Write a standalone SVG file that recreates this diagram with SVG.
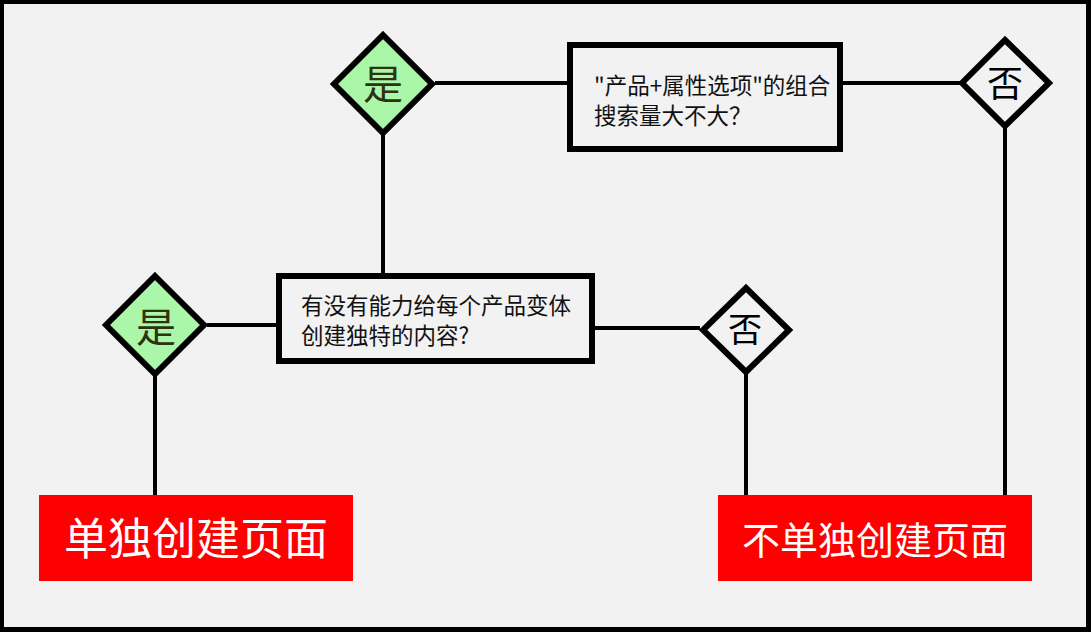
<svg xmlns="http://www.w3.org/2000/svg" width="1091" height="632" viewBox="0 0 1091 632">
<style>
.ln{stroke:#000;stroke-width:4;fill:none}
.box{fill:#f2f2f2;stroke:#000;stroke-width:6}
.yes{fill:#aaf7aa;stroke:#000;stroke-width:6}
.no{fill:#f2f2f2;stroke:#000;stroke-width:6}
.t{font-family:"Noto Sans CJK SC","Noto Sans",sans-serif;fill:#111;font-size:22.5px}
.dy{font-family:"Noto Sans CJK SC",sans-serif;fill:#2b3310;text-anchor:middle}
.dn{font-family:"Noto Sans CJK SC",sans-serif;fill:#000;text-anchor:middle}
.res{fill:#ff0000}
.rt{font-family:"Noto Sans CJK SC",sans-serif;fill:#fff;text-anchor:middle}
</style>
<rect x="0" y="0" width="1091" height="632" fill="#000"/>
<rect x="4" y="4" width="1082" height="623" fill="#f2f2f2"/>
<g id="connectors">
<line class="ln" x1="435" y1="83" x2="570" y2="83"/>
<line class="ln" x1="840" y1="83" x2="960" y2="83"/>
<line class="ln" x1="1005" y1="127" x2="1005" y2="496"/>
<line class="ln" x1="383" y1="135" x2="383" y2="276"/>
<line class="ln" x1="207" y1="325" x2="279" y2="325"/>
<line class="ln" x1="592" y1="328" x2="700" y2="328"/>
<line class="ln" x1="155" y1="376" x2="155" y2="496"/>
<line class="ln" x1="746" y1="372" x2="746" y2="496"/>
</g>
<g id="yes-top">
<polygon class="yes" points="383,35 432,84 383,133 334,84"/>
<text class="dy" x="383" y="99" font-size="40">是</text>
</g>
<g id="q-top">
<rect class="box" x="570" y="45" width="270" height="104"/>
<text class="t" x="594" y="94">"产品+属性选项"的组合</text>
<text class="t" x="594" y="124">搜索量大不大？</text>
</g>
<g id="no-top">
<polygon class="no" points="1005,40 1049,83 1005,126 962,83"/>
<text class="dn" x="1005" y="97" font-size="36">否</text>
</g>
<g id="q-mid">
<rect class="box" x="279" y="276" width="313" height="85"/>
<text class="t" x="301" y="313.5">有没有能力给每个产品变体</text>
<text class="t" x="301" y="343.5">创建独特的内容?</text>
</g>
<g id="yes-left">
<polygon class="yes" points="155,276 204,325 155,374 106,325"/>
<text class="dy" x="156" y="342" font-size="40">是</text>
</g>
<g id="no-mid">
<polygon class="no" points="746,288 789,330 746,372 703,330"/>
<text class="dn" x="745" y="342" font-size="34">否</text>
</g>
<g id="res-left">
<rect class="res" x="39" y="495" width="314" height="86"/>
<text class="rt" x="196" y="555" font-size="44">单独创建页面</text>
</g>
<g id="res-right">
<rect class="res" x="718" y="495" width="314" height="86"/>
<text class="rt" x="875" y="554" font-size="38">不单独创建页面</text>
</g>
</svg>
